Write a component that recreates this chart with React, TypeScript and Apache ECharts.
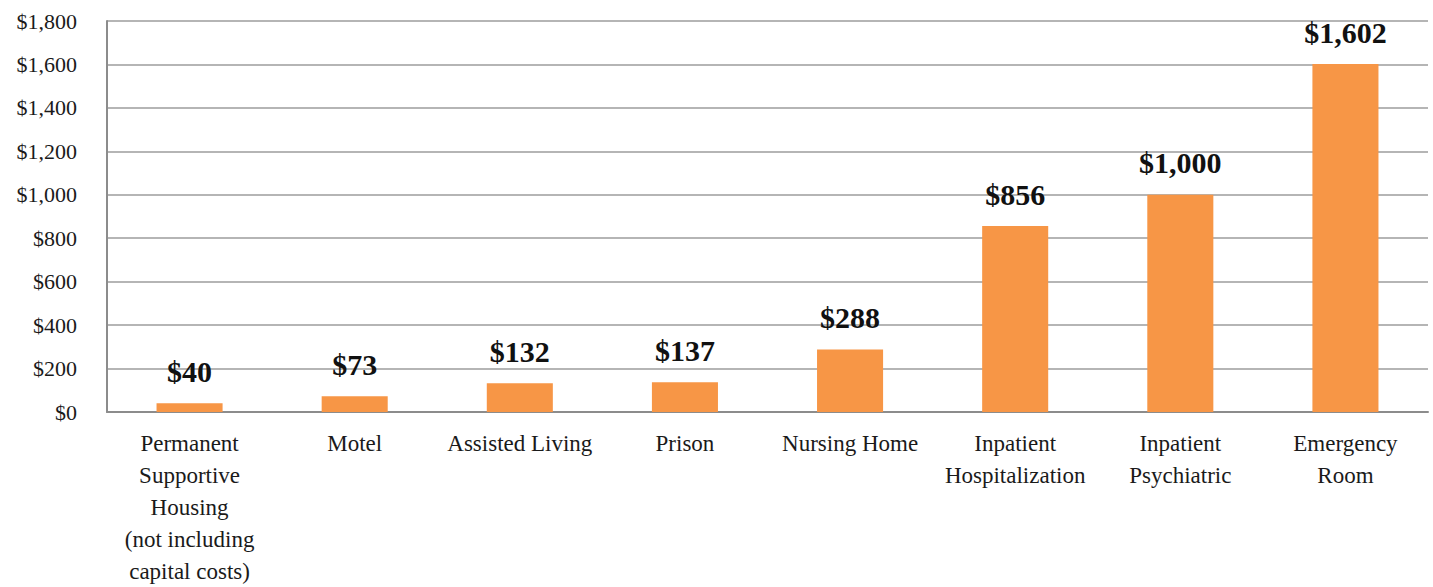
import React, { useEffect, useRef } from "react";
import * as echarts from "echarts";

const categories = [
  "Permanent\nSupportive\nHousing\n(not including\ncapital costs)",
  "Motel",
  "Assisted Living",
  "Prison",
  "Nursing Home",
  "Inpatient\nHospitalization",
  "Inpatient\nPsychiatric",
  "Emergency\nRoom",
];
const costs = [40, 73, 132, 137, 288, 856, 1000, 1602];
const yMin = 0;
const yMax = 1800;
const yStep = 200;

const fmt = (v: number) => "$" + v.toLocaleString("en-US");

export default function App() {
  const ref = useRef<HTMLDivElement>(null);
  useEffect(() => {
    if (!ref.current) return;
    const chart = echarts.init(ref.current, undefined, { renderer: "svg" });
    const font = "'Liberation Serif', 'DejaVu Serif', serif";
    chart.setOption({
      animation: false,
      grid: { left: 107, width: 1321, top: 21, height: 396, containLabel: false },
      xAxis: {
        type: "category",
        data: categories,
        axisLine: { show: true, lineStyle: { color: "#8c8c8c", width: 2 } },
        axisTick: { show: false },
        axisLabel: {
          interval: 0,
          margin: 15,
          fontFamily: font,
          fontSize: 23,
          lineHeight: 32,
          color: "#1a1a1a",
        },
      },
      yAxis: {
        type: "value",
        min: yMin,
        max: yMax,
        interval: yStep,
        axisLine: { show: true, lineStyle: { color: "#8c8c8c", width: 2 } },
        axisTick: { show: false },
        splitLine: { lineStyle: { color: "#b5b5b5", width: 2 } },
        axisLabel: {
          margin: 30,
          fontFamily: font,
          fontSize: 22,
          color: "#1a1a1a",
          formatter: (v: number) => fmt(v),
        },
      },
      series: [
        {
          type: "bar",
          data: costs,
          barWidth: "40%",
          itemStyle: { color: "#F79646" },
          label: {
            show: true,
            position: "top",
            distance: 17,
            fontFamily: font,
            fontWeight: "bold",
            fontSize: 30,
            color: "#111",
            formatter: (p: any) => fmt(p.value),
          },
        },
      ],
    });
    return () => chart.dispose();
  }, []);
  return (
    <div
      ref={ref}
      style={{ position: "fixed", left: 0, top: 0, width: 1433, height: 587, background: "#fff" }}
    />
  );
}
